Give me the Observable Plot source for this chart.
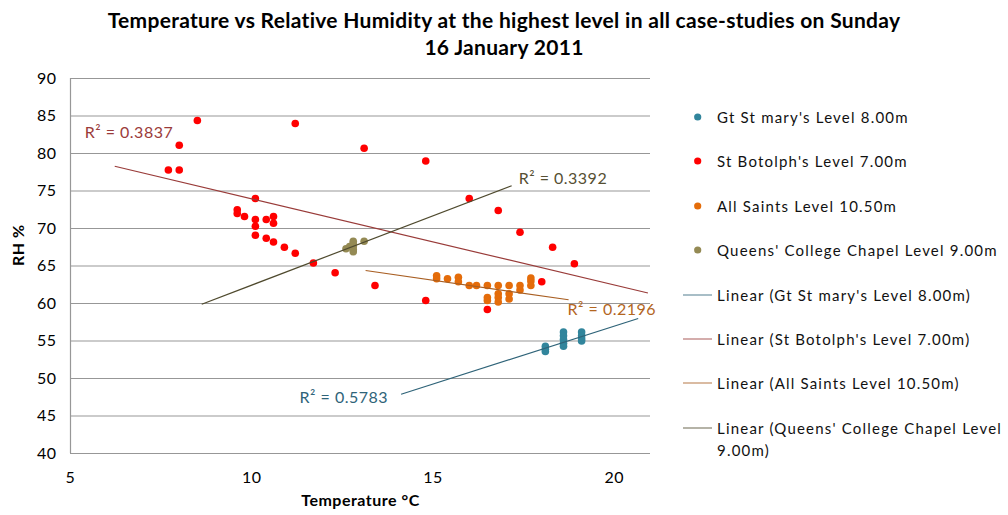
<!DOCTYPE html>
<html><head><meta charset="utf-8">
<script src="https://cdn.jsdelivr.net/npm/d3@7"></script>
<script src="https://cdn.jsdelivr.net/npm/@observablehq/plot@0.6"></script>
<style>
body{margin:0;background:#fff;font-family:Lato,"Open Sans",sans-serif;}
#wrap{position:relative;width:1008px;height:515px;overflow:hidden;background:#fff}
#title{height:62px;text-align:center;font-weight:bold;font-size:21px;letter-spacing:0.3px;line-height:27px;padding-top:6px;box-sizing:border-box;color:#000}
#chart svg{display:block;overflow:visible}
.lg{position:absolute;left:683px;width:322px;font-size:15px;letter-spacing:1.2px;line-height:22px;color:#111}
.lg .sw{position:absolute;left:0;top:0;width:30px;height:22px}
.lg .tx{position:absolute;left:34px;top:0;width:288px}
</style></head><body>
<div id="wrap">
<div id="title">Temperature vs Relative Humidity at the highest level in all case-studies on Sunday<br>16 January 2011</div>
<div id="chart"></div>
<div id="legend"></div>
</div>
<script>
// ---- series ----
const seriesNames = ["Gt St mary's Level 8.00m", "St Botolph's Level 7.00m", "All Saints Level 10.50m", "Queens' College Chapel Level 9.00m"];

// Gt St mary's Level 8.00m
const gtStMaryTemp = [18.1, 18.1, 18.1, 18.6, 18.6, 18.6, 18.6, 18.6, 19.1, 19.1, 19.1, 19.1];
const gtStMaryRH   = [54.3, 53.9, 53.6, 56.2, 55.7, 55.2, 54.7, 54.3, 56.2, 55.7, 55.3, 55.0];

// St Botolph's Level 7.00m
const stBotolphTemp = [7.7, 8.0, 8.0, 8.5, 9.6, 9.6, 9.8, 10.1, 10.1, 10.1, 10.1, 10.4, 10.4, 10.6, 10.6, 10.6, 10.9, 11.2, 11.2, 11.7, 12.3, 13.1, 13.4, 14.8, 14.8, 16.0, 16.5, 16.8, 17.4, 18.0, 18.3, 18.9];
const stBotolphRH   = [77.8, 77.8, 81.1, 84.4, 72.5, 72.0, 71.6, 74.0, 71.2, 70.3, 69.1, 71.2, 68.7, 71.6, 70.7, 68.2, 67.5, 66.7, 84.0, 65.4, 64.1, 80.7, 62.4, 79.0, 60.4, 74.0, 59.2, 72.4, 69.5, 62.9, 67.5, 65.3];

// All Saints Level 10.50m
const allSaintsTemp = [15.1, 15.1, 15.4, 15.7, 15.7, 16.0, 16.2, 16.5, 16.5, 16.5, 16.8, 16.8, 16.8, 16.8, 17.1, 17.1, 17.1, 17.4, 17.4, 17.7, 17.7, 17.7];
const allSaintsRH   = [63.7, 63.3, 63.3, 63.5, 62.9, 62.4, 62.4, 62.4, 60.8, 60.4, 62.4, 61.3, 60.8, 60.2, 62.4, 61.3, 60.6, 62.4, 61.8, 63.4, 63.0, 62.4];

// Queens' College Chapel Level 9.00m
const queensTemp = [12.6, 12.7, 12.8, 12.8, 12.8, 12.8, 12.8, 13.1];
const queensRH   = [67.3, 67.6, 68.3, 68.0, 67.6, 67.2, 66.9, 68.3];

// linear trendlines (end points) and their R² labels
const trendX0 = [14.12, 6.22, 13.14, 8.62];
const trendY0 = [47.9, 78.3, 64.4, 59.9];
const trendX1 = [20.66, 20.93, 18.74, 17.17];
const trendY1 = [58.0, 61.4, 60.5, 75.7];
const rSquared = ["0.5783", "0.3837", "0.2196", "0.3392"];

// axes
const xTicks = [5, 10, 15, 20];
const yTicks = [40, 45, 50, 55, 60, 65, 70, 75, 80, 85, 90];
const xTitle = "Temperature °C";
const yTitle = "RH %";

// ---- styles ----
const pointColors = ["#31859C", "#FF0000", "#E46C0A", "#948A54"];
const lineColors  = ["#2E6378", "#993B39", "#A85E22", "#4F4A2E"];
const labelColors = ["#2F6479", "#9B3B3A", "#B3661F", "#564F33"];

const temps = [gtStMaryTemp, stBotolphTemp, allSaintsTemp, queensTemp];
const rhs = [gtStMaryRH, stBotolphRH, allSaintsRH, queensRH];
const points = seriesNames.map((s, k) => temps[k].map((t, i) => ({series: s, k, temp: t, rh: rhs[k][i]})));
const trends = seriesNames.map((s, k) => ({series: s, k, x0: trendX0[k], y0: trendY0[k], x1: trendX1[k], y1: trendY1[k], r2: "R² = " + rSquared[k]}));

// label placement relative to the trendline ends: [useStart, anchor, dx, dy]
const labelPlace = [[true, "end", -13, 4], [true, "start", -30, -33], [false, "start", -1, 10], [false, "start", 7, -7]];

const marks = [
  Plot.gridY(yTicks, {stroke: "#979797", strokeOpacity: 1, strokeWidth: 1.2}),
  Plot.ruleX([5], {stroke: "#979797", strokeWidth: 1.2}),
];
points.forEach((pts, k) => {
  marks.push(Plot.dot(pts, {x: "temp", y: "rh", r: 3.8, fill: pointColors[k], stroke: "none"}));
});
trends.forEach((t, k) => {
  marks.push(Plot.link([t], {x1: "x0", y1: "y0", x2: "x1", y2: "y1", stroke: lineColors[k], strokeWidth: 1.2}));
});
trends.forEach((t, k) => {
  const [useStart, anchor, dx, dy] = labelPlace[k];
  marks.push(Plot.text([t], {
    x: useStart ? "x0" : "x1", y: useStart ? "y0" : "y1", text: "r2",
    textAnchor: anchor, dx, dy, fill: labelColors[k], fontSize: 16
  }));
});
marks.push(Plot.text([xTitle], {frameAnchor: "bottom", text: d => d, dy: 52, fontWeight: "bold", fontSize: 16, fill: "#000"}));
marks.push(Plot.text([yTitle], {frameAnchor: "left", text: d => d, dx: -52, rotate: -90, fontWeight: "bold", fontSize: 16, fill: "#000"}));

const chart = Plot.plot({
  width: 1008,
  height: 453,
  marginLeft: 70,
  marginRight: 358,
  marginTop: 16,
  marginBottom: 62,
  style: {fontFamily: "Lato, 'Open Sans', sans-serif", fontSize: "16px", letterSpacing: "0.5px", color: "#000", background: "#fff"},
  x: {domain: [5, 21], ticks: xTicks, tickSize: 0, tickPadding: 18, label: null},
  y: {domain: [40, 90], ticks: yTicks, tickSize: 0, tickPadding: 14, label: null},
  marks
});
document.getElementById("chart").appendChild(chart);

// ---- legend ----
const legend = document.getElementById("legend");
const legendItems = [
  ...seriesNames.map((s, k) => ({kind: "dot", k, label: s})),
  ...seriesNames.map((s, k) => ({kind: "line", k, label: "Linear (" + s + ")"}))
];
legendItems.forEach((it, i) => {
  const row = document.createElement("div");
  row.className = "lg";
  row.style.top = (106 + i * 44.4) + "px";
  const sw = it.kind === "dot"
    ? `<svg class="sw" width="30" height="22"><circle cx="14.7" cy="11" r="3.6" fill="${pointColors[it.k]}"/></svg>`
    : `<svg class="sw" width="30" height="22"><line x1="0" x2="29" y1="11" y2="11" stroke="${lineColors[it.k]}" stroke-opacity="0.7" stroke-width="1.2"/></svg>`;
  row.innerHTML = sw + `<div class="tx"></div>`;
  row.querySelector(".tx").textContent = it.label;
  legend.appendChild(row);
});
</script>
</body></html>
